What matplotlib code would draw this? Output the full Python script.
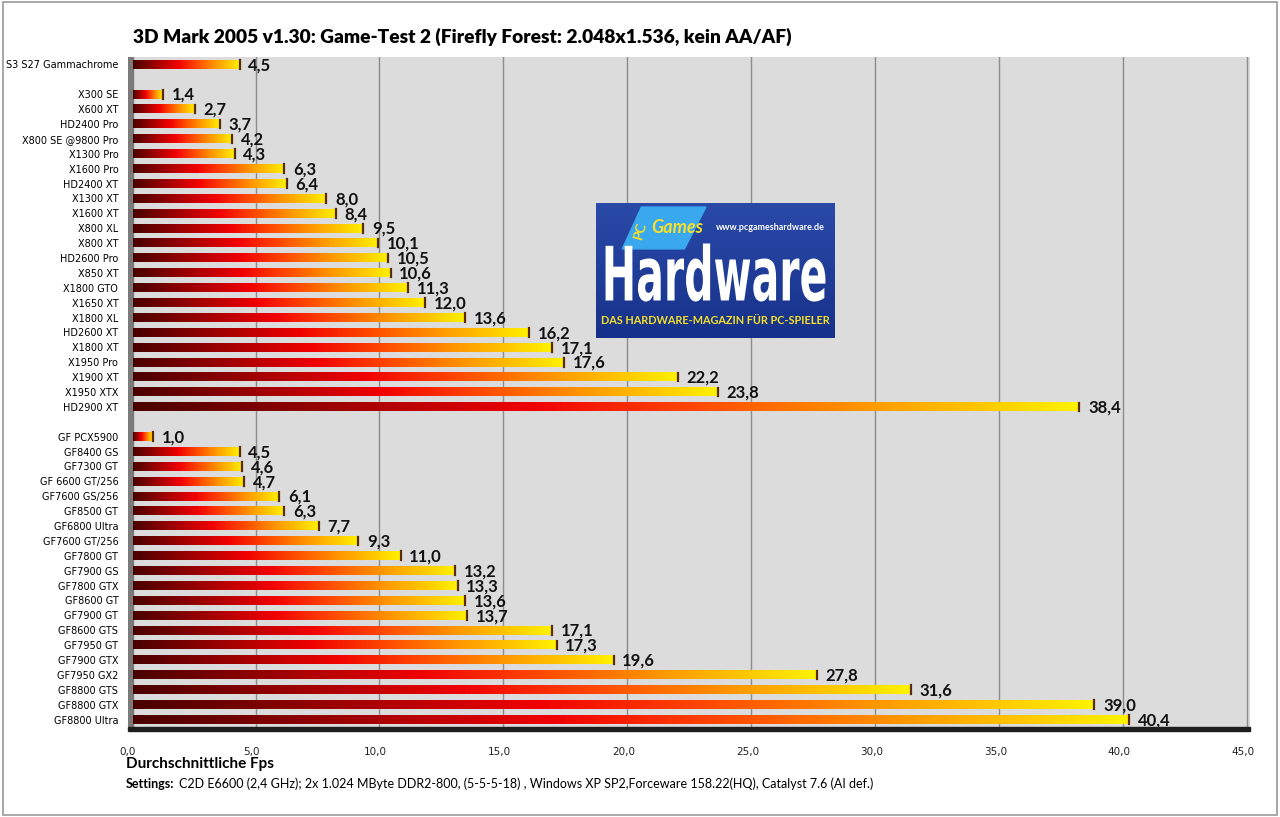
import numpy as np
import matplotlib
matplotlib.use("Agg")
from matplotlib import pyplot as plt
from matplotlib.colors import LinearSegmentedColormap
from matplotlib.patches import Rectangle, Polygon, PathPatch
from matplotlib.textpath import TextPath
from matplotlib.font_manager import FontProperties
from matplotlib.transforms import Affine2D

title = "3D Mark 2005 v1.30: Game-Test 2 (Firefly Forest: 2.048x1.536, kein AA/AF)"

top_cards = ["S3 S27 Gammachrome"]
top_fps = [4.5]

ati_cards = ["X300 SE", "X600 XT", "HD2400 Pro", "X800 SE @9800 Pro", "X1300 Pro",
             "X1600 Pro", "HD2400 XT", "X1300 XT", "X1600 XT", "X800 XL", "X800 XT",
             "HD2600 Pro", "X850 XT", "X1800 GTO", "X1650 XT", "X1800 XL", "HD2600 XT",
             "X1800 XT", "X1950 Pro", "X1900 XT", "X1950 XTX", "HD2900 XT"]
ati_fps = [1.4, 2.7, 3.7, 4.2, 4.3, 6.3, 6.4, 8.0, 8.4, 9.5, 10.1, 10.5, 10.6,
           11.3, 12.0, 13.6, 16.2, 17.1, 17.6, 22.2, 23.8, 38.4]

nv_cards = ["GF PCX5900", "GF8400 GS", "GF7300 GT", "GF 6600 GT/256", "GF7600 GS/256",
            "GF8500 GT", "GF6800 Ultra", "GF7600 GT/256", "GF7800 GT", "GF7900 GS",
            "GF7800 GTX", "GF8600 GT", "GF7900 GT", "GF8600 GTS", "GF7950 GT",
            "GF7900 GTX", "GF7950 GX2", "GF8800 GTS", "GF8800 GTX", "GF8800 Ultra"]
nv_fps = [1.0, 4.5, 4.6, 4.7, 6.1, 6.3, 7.7, 9.3, 11.0, 13.2, 13.3, 13.6, 13.7,
          17.1, 17.3, 19.6, 27.8, 31.6, 39.0, 40.4]

x_ticks = [0, 5, 10, 15, 20, 25, 30, 35, 40, 45]

# rows: group blocks separated by an empty row
labels = top_cards + [""] + ati_cards + [""] + nv_cards
values = top_fps + [None] + ati_fps + [None] + nv_fps

W, H = 1280, 817
fig = plt.figure(figsize=(12.8, 8.17), dpi=100)
plt.rcParams["font.family"] = ["Lato", "DejaVu Sans"]

# figure border
fig.patches.append(Rectangle((0.002, 0.002), 0.996, 0.996, transform=fig.transFigure,
                             fill=False, edgecolor="#9a9a9a", linewidth=1.2))

ax_left, ax_right = 128 / W, 1250 / W
ax_top, ax_bottom = 57 / H, 727 / H
ax = fig.add_axes([ax_left, 1 - ax_bottom, ax_right - ax_left, ax_bottom - ax_top])
xmax = 45 * (1250 - 128) / (1243 - 128)
n = len(labels)
ax.set_xlim(0, xmax)
ax.set_ylim(n - 0.5, -0.5)
ax.set_facecolor("#dcdcdc")
for s in ax.spines.values():
    s.set_visible(False)

for t in x_ticks[1:]:
    ax.axvline(t + 0.15, color="#8c8c8c", linewidth=1, zorder=1)

fire = LinearSegmentedColormap.from_list(
    "fire", [(0, "#4a0000"), (0.42, "#f00000"), (0.6, "#ff4a00"),
             (0.78, "#ff9a00"), (0.9, "#ffc800"), (1, "#fff200")])
grad = np.linspace(0, 1, 256).reshape(1, -1)

bh = 0.58
for i, v in enumerate(values):
    if v is None:
        continue
    ax.imshow(grad, cmap=fire, aspect="auto", extent=(0.2, v, i + bh / 2, i - bh / 2),
              zorder=3, interpolation="bilinear")
    # small dark cap at bar end
    ax.plot([v, v], [i - bh / 2, i + bh / 2], color="#5a2a00", linewidth=1.6, zorder=4)
    ax.text(v + 0.35, i + 0.05, f"{v:.1f}".replace(".", ","), va="center", ha="left",
            fontsize=12, fontweight="bold", color="#111111", zorder=5)

# left wall and floor (3D look)
ax.add_patch(Rectangle((0, -0.5), 0.2, n, color="#7a7a7a", zorder=2))
ax.add_patch(Polygon([(0, n - 0.5), (xmax, n - 0.5), (xmax, n - 0.2), (0, n - 0.2)],
                     closed=True, color="#1e1e1e", zorder=6, clip_on=False))
ax.set_xticks([])
ax.set_yticks(range(n))
ax.set_yticklabels(labels, fontsize=7, family="DejaVu Sans")
ax.tick_params(axis="y", length=0, pad=7)

# x tick labels below the floor
for t in x_ticks:
    ax.text(t, n + 1.2, f"{t:.1f}".replace(".", ","), ha="center", va="center",
            fontsize=7.5, family="DejaVu Sans", color="#222222", clip_on=False)

fig.text(462 / W, 1 - 37 / H, title, ha="center", va="center", fontsize=13.8,
         fontweight="heavy")
fig.text(126 / W, 1 - 764 / H, "Durchschnittliche Fps", ha="left", va="center",
         fontsize=11, fontweight="bold")
fig.text(126 / W, 1 - 784 / H, "Settings:", ha="left", va="center", fontsize=9,
         fontweight="bold")
fig.text(179 / W, 1 - 784 / H,
         "C2D E6600 (2,4 GHz); 2x 1.024 MByte DDR2-800, (5-5-5-18) , Windows XP SP2,"
         "Forceware 158.22(HQ), Catalyst 7.6 (AI def.)",
         ha="left", va="center", fontsize=9)

# logo
lg = fig.add_axes([596 / W, 1 - 338 / H, (835 - 596) / W, (338 - 203) / H])
lg.set_xlim(0, 1)
lg.set_ylim(0, 1)
lg.axis("off")
lg.imshow(np.linspace(0, 1, 64).reshape(-1, 1),
          cmap=LinearSegmentedColormap.from_list("lb", ["#2a4aa8", "#16318a"]),
          extent=(0, 1, 0, 1), aspect="auto", zorder=1)
lg.add_patch(Polygon([(0.19, 0.97), (0.46, 0.97), (0.37, 0.66), (0.11, 0.66)],
                     closed=True, color="#3aa8ef", zorder=2))
lg.text(0.185, 0.8, "PC", color="#f5e02a", fontsize=10, fontweight="bold",
        rotation=75, ha="center", va="center", zorder=3)
lg.text(0.34, 0.82, "Games", color="#f5e02a", fontsize=13, fontweight="bold",
        fontstyle="italic", ha="center", va="center", zorder=3)
lg.text(0.73, 0.82, "www.pcgameshardware.de", color="white", fontsize=6.5,
        fontweight="bold", ha="center", va="center", zorder=3)

tp = TextPath((0, 0), "Hardware", size=1,
              prop=FontProperties(family="DejaVu Sans", weight="bold"))
bb = tp.get_extents()
x0, x1, y0, y1 = 0.04, 0.96, 0.27, 0.70
tr = Affine2D().translate(-bb.x0, -bb.y0).scale((x1 - x0) / bb.width,
                                                (y1 - y0) / bb.height).translate(x0, y0)
lg.add_patch(PathPatch(tr.transform_path(tp), facecolor="white", edgecolor="none",
                       zorder=3))
lg.text(0.5, 0.13, "DAS HARDWARE-MAGAZIN FÜR PC-SPIELER", color="#f5e02a",
        fontsize=7.8, fontweight="bold", ha="center", va="center", zorder=3)

fig.savefig("out.png", dpi=100)
